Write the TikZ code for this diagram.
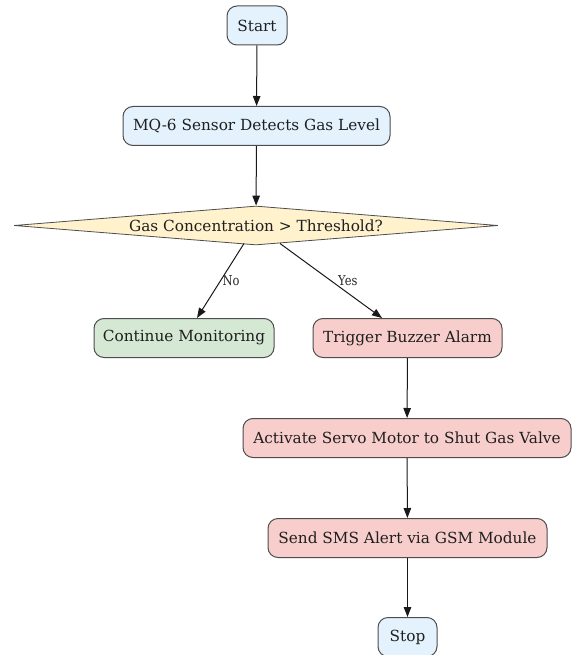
\documentclass[tikz,border=0pt]{standalone}
\usepackage{fontspec}
\setmainfont{DejaVu Serif}
\usetikzlibrary{shapes.geometric,arrows.meta}
\definecolor{bluef}{HTML}{E3F2FD}
\definecolor{greenf}{HTML}{D5E8D4}
\definecolor{redf}{HTML}{F8CECC}
\definecolor{yellowf}{HTML}{FFF2CC}
\definecolor{edgec}{HTML}{4D4D4D}
\tikzset{
  boxnode/.style={draw=edgec, line width=1pt, rounded corners=10pt, minimum height=39pt, inner sep=0pt, font=\fontsize{15.3}{17}\selectfont, text=black!88},
  decnode/.style={draw=edgec, line width=0.8pt, diamond, minimum width=484pt, minimum height=39pt, inner sep=0pt, aspect=12, fill=yellowf, font=\fontsize{15.3}{17}\selectfont, text=black!88},
  flow/.style={-{Triangle[length=10pt,width=7.5pt]}, line width=1pt, black!90},
  elabel/.style={font=\fontsize{13.5}{15}\selectfont, text=black!85, inner sep=0pt, anchor=west, xscale=0.85}
}
\begin{document}
\begin{tikzpicture}[x=1pt,y=-1pt]
\useasboundingbox (0,0) rectangle (572,655);
\node[boxnode, fill=bluef, minimum width=60pt] (start) at (257,25.5) {Start};
\node[boxnode, fill=bluef, minimum width=267pt] (sensor) at (256.5,126) {MQ-6 Sensor Detects Gas Level};
\node[decnode] (dec) at (256,225.5) {Gas Concentration > Threshold?};
\node[boxnode, fill=greenf, minimum width=180pt] (cont) at (184,338) {Continue Monitoring};
\node[boxnode, fill=redf, minimum width=189pt] (buzz) at (407.5,338) {Trigger Buzzer Alarm};
\node[boxnode, fill=redf, minimum width=328pt] (servo) at (407,438) {Activate Servo Motor to Shut Gas Valve};
\node[boxnode, fill=redf, minimum width=279pt] (sms) at (407.5,538) {Send SMS Alert via GSM Module};
\node[boxnode, fill=bluef, minimum width=59pt] (stop) at (407.5,637) {Stop};
\coordinate (noS) at (244,243.5);
\coordinate (noE) at (197,318);
\coordinate (yesS) at (280,243.5);
\coordinate (yesE) at (382,318);
\draw[flow] (start) -- (sensor);
\draw[flow] (sensor) -- (dec);
\draw[flow] (noS) -- node[elabel, pos=0.5, xshift=2pt] {No} (noE);
\draw[flow] (yesS) -- node[elabel, pos=0.5, xshift=8pt] {Yes} (yesE);
\draw[flow] (buzz) -- (servo);
\draw[flow] (servo) -- (sms);
\draw[flow] (sms) -- (stop);
\end{tikzpicture}
\end{document}
